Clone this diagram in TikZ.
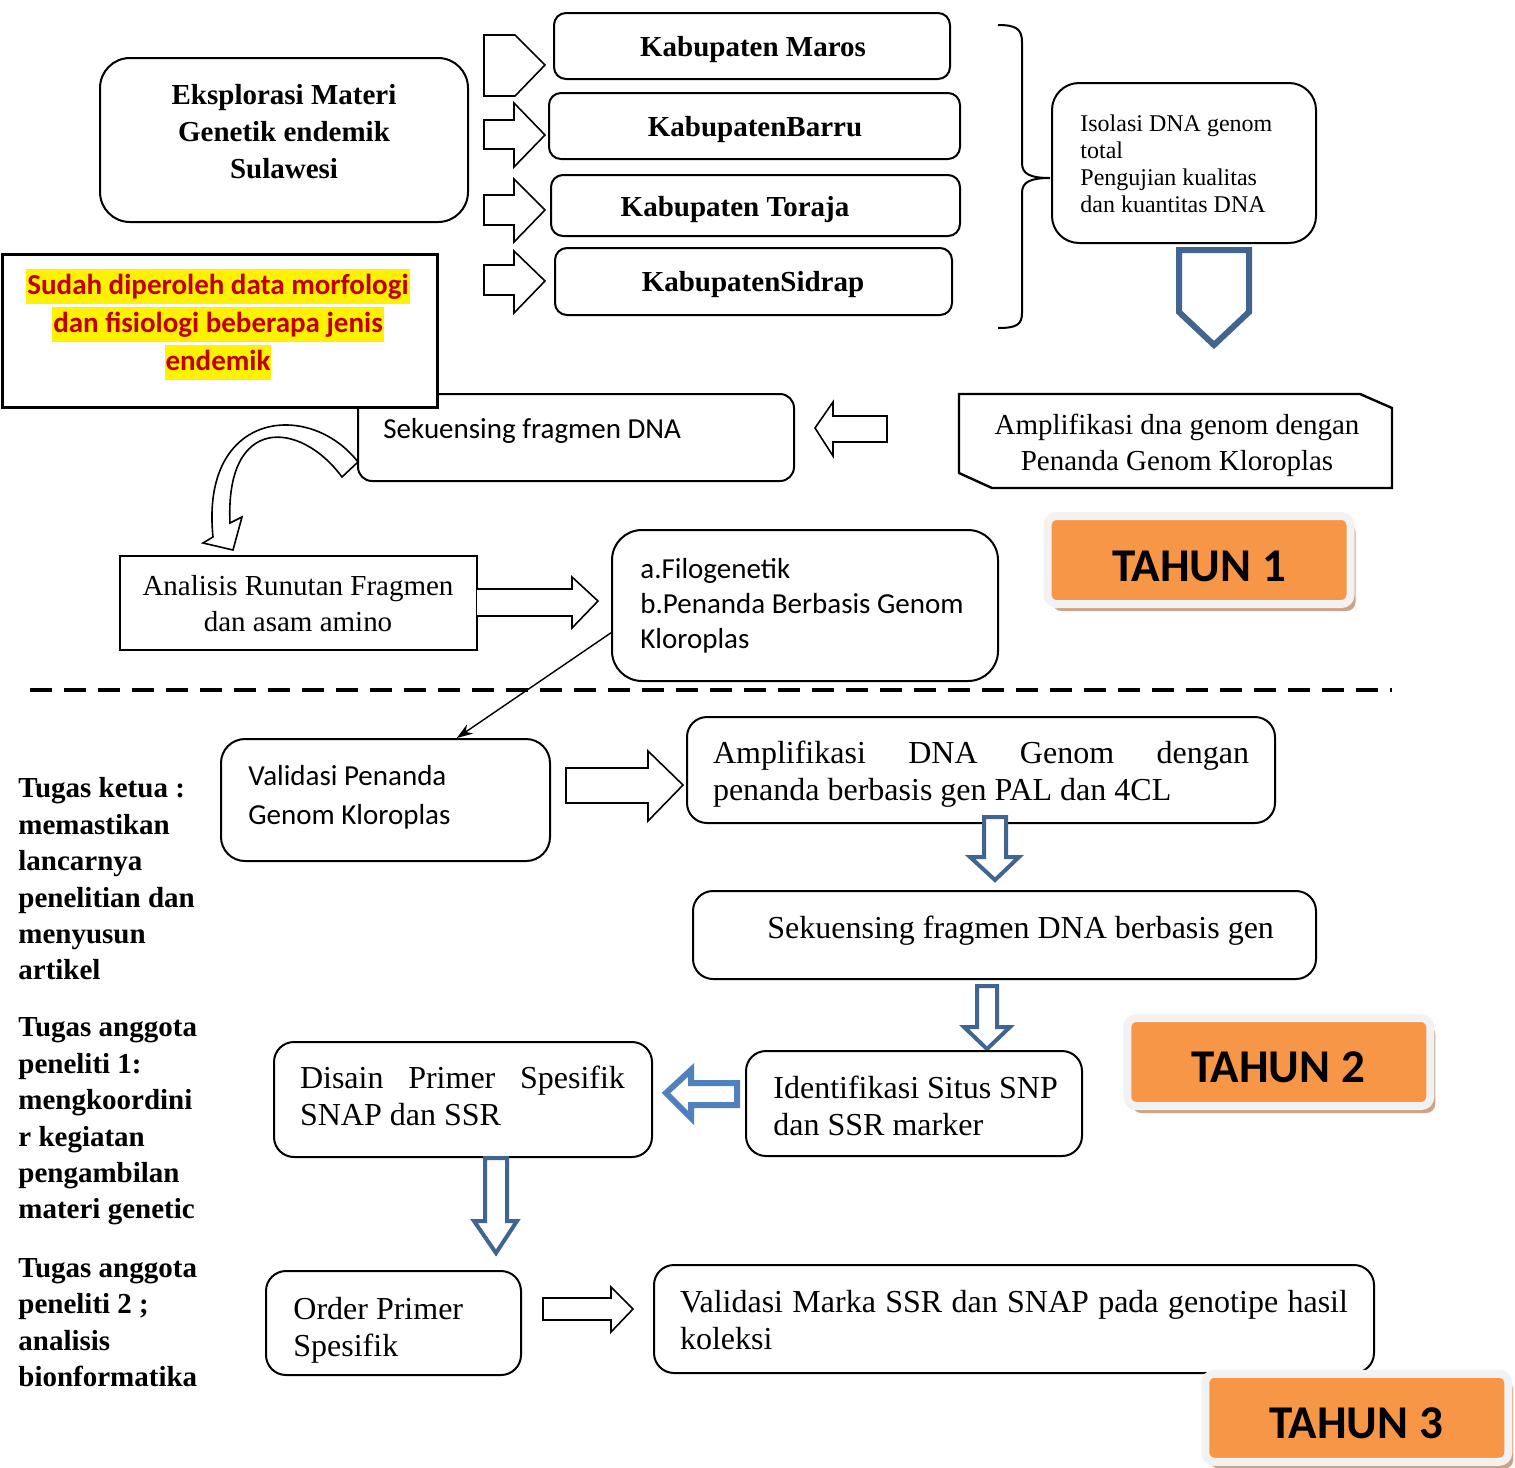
\documentclass[tikz,border=0pt]{standalone}
\usepackage{fontspec}
\setmainfont{Liberation Serif}
\newfontfamily\calibri{Carlito}
\usepackage{tikz}
\usetikzlibrary{arrows.meta,shadows}
\usepackage{xcolor}
\definecolor{orangeT}{HTML}{F79646}
\definecolor{shadowtan}{HTML}{CFA282}
\definecolor{rimgray}{HTML}{F2F2F2}
\definecolor{arrowblue}{HTML}{3F6590}
\definecolor{lightblue}{HTML}{4F81BD}
\definecolor{darkred}{HTML}{C00000}
\newcommand\hlyellow[1]{{\setlength\fboxsep{0.5pt}\colorbox{yellow}{\rule[-0.3em]{0pt}{1.17em}#1}}}

\begin{document}
\begin{tikzpicture}[x=0.5pt,y=-0.5pt,
    rbox/.style={draw, rounded corners=#1, line width=1pt, fill=white, inner sep=0pt},
    rbox/.default=10pt,
    sqbox/.style={draw, line width=1pt, fill=white, inner sep=0pt},
    times/.style={font=\fontsize{14.5}{18}\selectfont, inner sep=0pt, align=center},
    timesbig/.style={font=\fontsize{16}{18.5}\selectfont, inner sep=0pt},
    calib/.style={font=\calibri\fontsize{14.5}{17.5}\selectfont, inner sep=0pt, align=left},
    kab/.style={font=\bfseries\fontsize{14.5}{18.5}\selectfont, inner sep=0pt, align=center},
    tugas/.style={font=\bfseries\fontsize{14.5}{18.2}\selectfont, inner sep=0pt, align=left, anchor=west},
    blockarrow/.style={draw, fill=white, line width=0.8pt, line join=miter},
    bluearrow/.style={draw=arrowblue, fill=white, line width=2pt, line join=miter},
    tahun/.style={fill=orangeT, draw=rimgray, line width=4pt, rounded corners=4.5pt,
        minimum width=151.5pt, minimum height=44pt, inner sep=0pt,
        drop shadow={shadow xshift=2.5pt, shadow yshift=-3.5pt, fill=shadowtan, opacity=1}},
    tahuntext/.style={font=\calibri\bfseries\fontsize{23.5}{28}\selectfont, inner sep=0pt}
]
    \useasboundingbox (0,0) rectangle (1515,1467);

    % Eksplorasi
    \node[rbox=15pt, minimum width=184pt, minimum height=82pt] (eksp) at (284,140) {};
    \node[kab] (ekspT) at (284,132) {Eksplorasi Materi\\Genetik endemik\\Sulawesi};

    % Kabupaten
    \node[rbox=6pt, minimum width=198pt, minimum height=33pt] (maros) at (752,46) {};
    \node[rbox=6pt, minimum width=205.5pt, minimum height=33pt] (barru) at (754.5,126) {};
    \node[rbox=6pt, minimum width=204.5pt, minimum height=30.5pt] (toraja) at (755.5,205.5) {};
    \node[rbox=6pt, minimum width=198.5pt, minimum height=33.5pt] (sidrap) at (753.5,281.5) {};
    \node[kab] (marosT) at (753,50) {Kabupaten Maros};
    \node[kab] (barruT) at (755,130) {KabupatenBarru};
    \node[kab] (torajaT) at (735,210) {Kabupaten Toraja};
    \node[kab] (sidrapT) at (753,285) {KabupatenSidrap};

    \draw[blockarrow] (484,35) -- (515,35) -- (545,65) -- (515,96) -- (484,96) -- cycle;
    \draw[blockarrow] (484,120) -- (514,120) -- (514,103) -- (545,135) -- (514,167) -- (514,149) -- (484,149) -- cycle;
    \draw[blockarrow] (484,195) -- (514,195) -- (514,179) -- (545,210) -- (514,242) -- (514,225) -- (484,225) -- cycle;
    \draw[blockarrow] (484,265) -- (514,265) -- (514,251) -- (545,281) -- (514,313) -- (514,295) -- (484,295) -- cycle;

    % Brace and isolation
    \draw[line width=1pt] (998,25) .. controls (1016,25) and (1022,29) .. (1022,42) -- (1022,163)
        .. controls (1022,174) and (1030,178) .. (1050,178)
        .. controls (1030,178) and (1022,182) .. (1022,193) -- (1022,313)
        .. controls (1022,325) and (1016,328) .. (998,328);
    \node[rbox=13.5pt, minimum width=132pt, minimum height=80pt] (isol) at (1184,163) {};
    \node[font=\fontsize{12}{13.5}\selectfont, inner sep=0pt, align=left, anchor=west] (isolT) at (1080,164)
        {Isolasi DNA genom\\total\\Pengujian kualitas\\dan kuantitas DNA};
    \draw[draw=arrowblue, line width=3pt, line join=miter] (1179,250) -- (1249,250) -- (1249,312) -- (1214,345) -- (1179,312) -- cycle;

    % Amplifikasi dna
    \draw[line width=1.2pt, fill=white] (959,394) -- (1360,394) -- (1392,408) -- (1392,488) -- (992,488) -- (959,473) -- cycle;
    \node[times] (ampdna) at (1177,445) {Amplifikasi dna genom dengan\\Penanda Genom Kloroplas};
    \draw[blockarrow] (887,416) -- (833,416) -- (833,402) -- (815,428) -- (833,456) -- (833,442) -- (887,442) -- cycle;

    % Sekuensing and morphology note
    \node[rbox=7pt, minimum width=218pt, minimum height=43.5pt] (seqdna) at (576,437.5) {};
    \node[calib, anchor=west] (seqdnaT) at (383,431) {Sekuensing fragmen DNA};
    \node[sqbox, line width=1.5pt, minimum width=217.5pt, minimum height=76.5pt] (sudah) at (219.5,330.5) {};
    \node[font=\calibri\bfseries\fontsize{14.5}{19}\selectfont, text=darkred, inner sep=0pt, align=center] (sudahT) at (218,324.5)
        {\hlyellow{Sudah diperoleh data morfologi}\\\hlyellow{dan fisiologi beberapa jenis}\\\hlyellow{endemik}};
    \draw[blockarrow] (358,462) .. controls (310,400) and (200,410) .. (213,537) -- (203,543) -- (233,550)
        -- (242,517) -- (230,523) .. controls (225,415) and (300,420) .. (342,477) -- cycle;

    % Analisis and filogenetik
    \node[sqbox, minimum width=178.5pt, minimum height=47pt] (analisis) at (298.5,603) {};
    \node[times] (analisisT) at (298,604) {Analisis Runutan Fragmen\\dan asam amino};
    \draw[blockarrow] (477,589) -- (572,589) -- (572,577) -- (598,601) -- (572,628) -- (572,616) -- (477,616);
    \node[rbox=15pt, minimum width=193pt, minimum height=75.5pt] (filo) at (805,605.5) {};
    \node[calib, anchor=west] (filoT) at (640,606) {a.Filogenetik\\b.Penanda Berbasis Genom\\Kloroplas};
    \node[tahun] (t1) at (1199,560) {};
    \node[tahuntext] (t1T) at (1199,566) {TAHUN 1};

    % Year divider
    \draw[line width=2pt, dash pattern=on 11pt off 6pt] (30,690) -- (1392,690);

    % Validasi penanda
    \node[rbox=12pt, minimum width=164.5pt, minimum height=61pt] (valpen) at (385.5,800) {};
    \node[calib, font=\calibri\fontsize{14.5}{19.5}\selectfont, anchor=west] (valpenT) at (248,797.5) {Validasi Penanda\\Genom Kloroplas};
    \draw[line width=0.7pt, -{Stealth[length=8pt, width=5.5pt]}] (filo.188) -- (valpen.41);
    \draw[blockarrow] (566,768) -- (648,768) -- (648,751) -- (683,785) -- (648,821) -- (648,803) -- (566,803) -- cycle;

    % Tahun 2
    \node[rbox, minimum width=294pt, minimum height=53pt] (ampgen) at (981,770) {};
    \node[timesbig, align=justify, text width=268pt] (ampgenT) at (981,774)
        {Amplifikasi DNA Genom dengan\linebreak penanda berbasis gen PAL dan 4CL};
    \draw[bluearrow] (984,817) -- (1006,817) -- (1006,857) -- (1019,857) -- (995,880) -- (970,857) -- (984,857) -- cycle;
    \node[rbox, minimum width=311.5pt, minimum height=44pt] (seqgen) at (1004.5,935) {};
    \node[timesbig, anchor=west] (seqgenT) at (767,931) {Sekuensing fragmen DNA berbasis gen};
    \draw[bluearrow] (977,986) -- (997,986) -- (997,1027) -- (1010,1027) -- (987,1049) -- (964,1027) -- (977,1027) -- cycle;
    \node[rbox, minimum width=168pt, minimum height=52.5pt] (ident) at (914,1103.5) {};
    \node[timesbig, align=left, anchor=west] (identT) at (773,1105.5) {Identifikasi Situs SNP\\dan SSR marker};
    \draw[draw=lightblue, fill=white, line width=3pt, line join=miter] (737,1083) -- (691,1083) -- (691,1070) -- (666,1093)
        -- (691,1118) -- (691,1105) -- (737,1105) -- cycle;
    \node[rbox, minimum width=189pt, minimum height=57.5pt] (disain) at (463,1099.5) {};
    \node[timesbig, align=justify, text width=162.5pt] (disainT) at (462.5,1095.5) {Disain Primer Spesifik\linebreak SNAP dan SSR};
    \node[tahun] (t2) at (1278.75,1062) {};
    \node[tahuntext] (t2T) at (1278,1067) {TAHUN 2};

    % Tahun 3
    \draw[bluearrow] (485,1158) -- (507,1158) -- (507,1221) -- (517,1221) -- (496,1253) -- (474,1221) -- (485,1221) -- cycle;
    \node[rbox, minimum width=127.5pt, minimum height=52pt] (order) at (393.5,1323) {};
    \node[timesbig, align=left, anchor=west] (orderT) at (293,1330) {Order Primer\\Spesifik};
    \draw[blockarrow] (543,1298) -- (611,1298) -- (611,1287) -- (633,1309) -- (611,1332) -- (611,1320) -- (543,1320) -- cycle;
    \node[rbox, minimum width=360pt, minimum height=54pt] (valmarka) at (1014,1319) {};
    \node[timesbig, align=justify, text width=334pt] (valmarkaT) at (1014,1320.5)
        {Validasi Marka SSR dan SNAP pada genotipe hasil\linebreak koleksi};
    \node[tahun] (t3) at (1356.75,1417.75) {};
    \node[tahuntext] (t3T) at (1356,1423) {TAHUN 3};

    % Tasks
    \node[tugas] (tugas1) at (18,879) {Tugas ketua :\\memastikan\\lancarnya\\penelitian dan\\menyusun\\artikel};
    \node[tugas] (tugas2) at (18,1121.5) {Tugas anggota\\peneliti 1:\\mengkoordini\\r kegiatan\\pengambilan\\materi genetic};
    \node[tugas] (tugas3) at (18,1322.5) {Tugas anggota\\peneliti 2 ;\\analisis\\bionformatika};
\end{tikzpicture}
\end{document}
